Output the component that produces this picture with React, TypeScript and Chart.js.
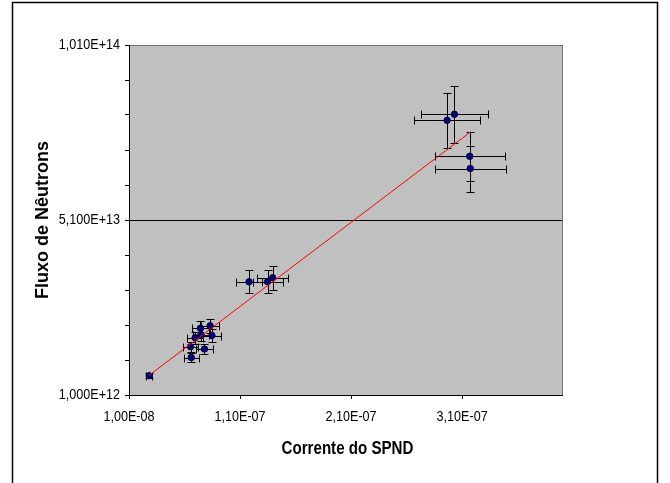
import React, { useEffect, useRef } from 'react';
import { Chart, registerables } from 'chart.js';

Chart.register(...registerables);

// Corrente do SPND (A)
const CURRENT_A = [
  2.82e-8, 6.61e-8, 6.54e-8, 7.8e-8, 6.96e-8, 7.48e-8, 7.43e-8, 8.31e-8, 8.47e-8,
  1.181e-7, 1.348e-7, 1.394e-7, 2.965e-7, 3.031e-7, 3.169e-7, 3.174e-7,
];
// Fluxo de Nêutrons
const FLUX = [
  6.51e12, 1.171e13, 1.48e13, 1.414e13, 1.737e13, 1.828e13, 2.008e13, 2.077e13, 1.8e13,
  3.334e13, 3.337e13, 3.451e13, 7.948e13, 8.12e13, 6.92e13, 6.57e13,
];
// Percentage error bars (Excel "percentage" error amount)
const ERROR_PERCENT = 10;

const X_TICKS = [1e-8, 1.1e-7, 2.1e-7, 3.1e-7];
const X_TICK_LABELS = ['1,00E-08', '1,10E-07', '2,10E-07', '3,10E-07'];
const Y_TICKS = [
  1e12, 1.1e13, 2.1e13, 3.1e13, 4.1e13, 5.1e13, 6.1e13, 7.1e13, 8.1e13, 9.1e13, 1.01e14,
];
const Y_TICK_LABELS = ['1,000E+12', '', '', '', '', '5,100E+13', '', '', '', '', '1,010E+14'];

const X_TITLE = 'Corrente do SPND';
const Y_TITLE = 'Fluxo de Nêutrons';

const SANS = "'Liberation Sans', Arial, sans-serif";
const SQUEEZE = 0.84;

function linearFit(xs: number[], ys: number[]) {
  const n = xs.length;
  const mx = xs.reduce((a, b) => a + b, 0) / n;
  const my = ys.reduce((a, b) => a + b, 0) / n;
  let sxy = 0;
  let sxx = 0;
  for (let i = 0; i < n; i++) {
    sxy += (xs[i] - mx) * (ys[i] - my);
    sxx += (xs[i] - mx) * (xs[i] - mx);
  }
  const slope = sxy / sxx;
  return { slope, intercept: my - slope * mx };
}

function squeezedText(ctx: any, text: string, x: number, y: number, font: string, align: string) {
  ctx.save();
  ctx.font = font;
  ctx.fillStyle = '#000000';
  ctx.textAlign = align;
  ctx.textBaseline = 'middle';
  ctx.translate(x, y);
  ctx.scale(SQUEEZE, 1);
  ctx.fillText(text, 0, 0);
  ctx.restore();
}

const backgroundPlugin = {
  id: 'bgFrame',
  beforeDraw(chart: any) {
    const { ctx, chartArea: a } = chart;
    ctx.save();
    ctx.fillStyle = '#ffffff';
    ctx.fillRect(0, 0, chart.width, chart.height);
    ctx.strokeStyle = '#000000';
    ctx.lineWidth = 1.5;
    ctx.strokeRect(12.5, 2.5, 645, 520);
    ctx.fillStyle = '#C0C0C0';
    ctx.fillRect(a.left, a.top, a.right - a.left, a.bottom - a.top);
    ctx.strokeStyle = '#707070';
    ctx.lineWidth = 1;
    ctx.strokeRect(Math.round(a.left) + 0.5, Math.round(a.top) + 0.5, Math.round(a.right - a.left), Math.round(a.bottom - a.top));
    ctx.restore();
  },
};

const labelsPlugin = {
  id: 'squeezedLabels',
  afterDraw(chart: any) {
    const { ctx, scales, chartArea: a } = chart;
    const tickFont = `15px ${SANS}`;
    X_TICKS.forEach((v, i) => {
      squeezedText(ctx, X_TICK_LABELS[i], scales.x.getPixelForValue(v), a.bottom + 22, tickFont, 'center');
    });
    Y_TICKS.forEach((v, i) => {
      if (!Y_TICK_LABELS[i]) return;
      squeezedText(ctx, Y_TICK_LABELS[i], a.left - 9, scales.y.getPixelForValue(v), tickFont, 'right');
    });
    squeezedText(ctx, X_TITLE, (a.left + a.right) / 2 + 2, a.bottom + 54, `bold 18px ${SANS}`, 'center');
  },
};

const errorBarPlugin = {
  id: 'errorBars',
  beforeDatasetsDraw(chart: any) {
    const { ctx, scales } = chart;
    const xs = scales.x;
    const ys = scales.y;
    const cap = 4;
    ctx.save();
    ctx.strokeStyle = '#000000';
    ctx.lineWidth = 1;
    for (let i = 0; i < CURRENT_A.length; i++) {
      const xv = CURRENT_A[i];
      const yv = FLUX[i];
      const dx = (xv * ERROR_PERCENT) / 100;
      const dy = (yv * ERROR_PERCENT) / 100;
      const px = Math.round(xs.getPixelForValue(xv)) + 0.5;
      const py = Math.round(ys.getPixelForValue(yv)) + 0.5;
      const x1 = Math.round(xs.getPixelForValue(xv - dx)) + 0.5;
      const x2 = Math.round(xs.getPixelForValue(xv + dx)) + 0.5;
      const y1 = Math.round(ys.getPixelForValue(yv + dy)) + 0.5;
      const y2 = Math.round(ys.getPixelForValue(yv - dy)) + 0.5;
      ctx.beginPath();
      ctx.moveTo(x1, py);
      ctx.lineTo(x2, py);
      ctx.moveTo(x1, py - cap);
      ctx.lineTo(x1, py + cap);
      ctx.moveTo(x2, py - cap);
      ctx.lineTo(x2, py + cap);
      ctx.moveTo(px, y1);
      ctx.lineTo(px, y2);
      ctx.moveTo(px - cap, y1);
      ctx.lineTo(px + cap, y1);
      ctx.moveTo(px - cap, y2);
      ctx.lineTo(px + cap, y2);
      ctx.stroke();
    }
    ctx.restore();
  },
};

export default function App() {
  const ref = useRef<HTMLCanvasElement | null>(null);

  useEffect(() => {
    if (!ref.current) return;
    const points = CURRENT_A.map((x, i) => ({ x, y: FLUX[i] }));
    const { slope, intercept } = linearFit(CURRENT_A, FLUX);
    const xMin = Math.min(...CURRENT_A);
    const xMax = Math.max(...CURRENT_A);
    const trend = [
      { x: xMin, y: intercept + slope * xMin },
      { x: xMax, y: intercept + slope * xMax },
    ];

    const chart = new Chart(ref.current, {
      type: 'scatter',
      data: {
        datasets: [
          {
            label: 'Linear',
            data: trend,
            showLine: true,
            borderColor: '#FF0000',
            borderWidth: 1,
            pointRadius: 0,
            fill: false,
          } as any,
          {
            label: 'Fluxo',
            data: points,
            pointRadius: 3.2,
            pointBackgroundColor: '#000080',
            pointBorderColor: '#000030',
            pointBorderWidth: 1,
          },
        ],
      },
      options: {
        animation: false,
        responsive: false,
        devicePixelRatio: 1,
        events: [],
        layout: { padding: { left: 0, right: 108, top: 45, bottom: 0 } },
        plugins: {
          legend: { display: false },
          tooltip: { enabled: false },
        },
        scales: {
          x: {
            type: 'linear',
            min: 1e-8,
            max: 4e-7,
            afterBuildTicks: (s: any) => {
              s.ticks = X_TICKS.map((value) => ({ value }));
            },
            afterFit: (s: any) => {
              s.height = 88;
            },
            ticks: { display: false },
            grid: {
              drawOnChartArea: false,
              tickLength: 4,
              tickColor: '#000000',
              tickWidth: 1,
            },
            border: { color: '#000000', width: 1 },
            title: { display: false },
          },
          y: {
            type: 'linear',
            min: 1e12,
            max: 1.01e14,
            afterBuildTicks: (s: any) => {
              s.ticks = Y_TICKS.map((value) => ({ value }));
            },
            afterFit: (s: any) => {
              s.width = 129;
            },
            ticks: { display: false },
            grid: {
              color: (c: any) => (c.index === 5 ? '#000000' : 'rgba(0,0,0,0)'),
              lineWidth: 1,
              tickLength: 4,
              tickColor: '#000000',
              tickWidth: 1,
            },
            border: { color: '#000000', width: 1 },
            title: {
              display: true,
              text: Y_TITLE,
              color: '#000000',
              font: { family: SANS, size: 18, weight: 'bold' },
              padding: { top: 32, bottom: 0 },
            },
          },
        },
      },
      plugins: [backgroundPlugin, errorBarPlugin, labelsPlugin],
    } as any);

    return () => chart.destroy();
  }, []);

  return (
    <div style={{ position: 'absolute', left: 0, top: 0, width: 670, height: 483, background: '#fff' }}>
      <canvas ref={ref} width={670} height={483} style={{ display: 'block', width: 670, height: 483 }} />
    </div>
  );
}
